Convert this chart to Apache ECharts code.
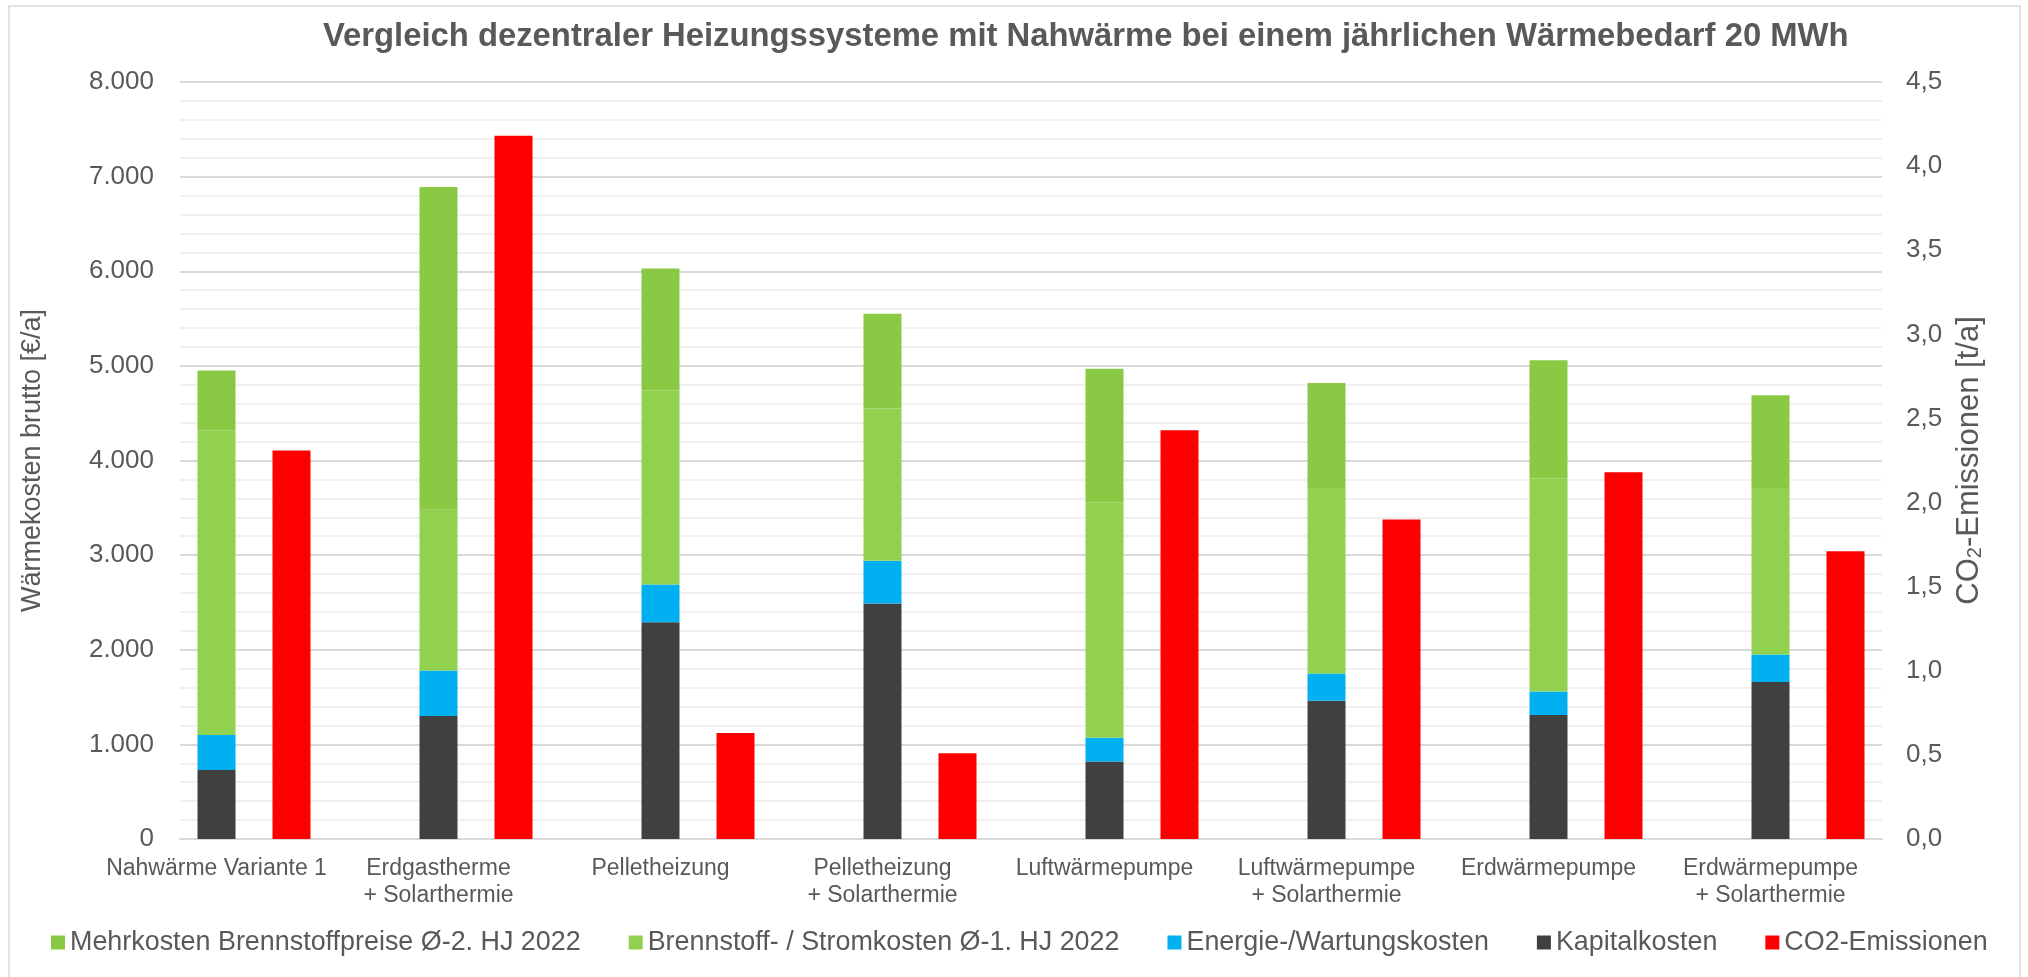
<!DOCTYPE html>
<html>
<head>
<meta charset="UTF-8">
<title>Vergleich Heizungssysteme</title>
<script src="https://cdn.jsdelivr.net/npm/echarts@6/dist/echarts.min.js"></script>
<style>
  html, body { margin: 0; padding: 0; background: #fff; }
  #chart { width: 2028px; height: 977px; }
</style>
</head>
<body>
<div id="chart"></div>
<script>
// Kategorien (x-Achse)
var categories = [
  'Nahwärme Variante 1',
  'Erdgastherme\n+ Solarthermie',
  'Pelletheizung',
  'Pelletheizung\n+ Solarthermie',
  'Luftwärmepumpe',
  'Luftwärmepumpe\n+ Solarthermie',
  'Erdwärmepumpe',
  'Erdwärmepumpe\n+ Solarthermie'
];

// Kosten in €/a (gestapelt)
var kapitalkosten = [730, 1300, 2290, 2490, 820, 1460, 1310, 1660];
var energieWartung = [370, 480, 400, 450, 250, 290, 250, 290];
var brennstoff1HJ = [3220, 1700, 2050, 1610, 2490, 1960, 2250, 1760];
var mehrkosten2HJ = [630, 3410, 1290, 1000, 1410, 1110, 1250, 980];

// CO2 in t/a (rechte Achse)
var co2 = [2.31, 4.18, 0.63, 0.51, 2.43, 1.90, 2.18, 1.71];

var font = "'Liberation Sans', Arial, sans-serif";
var textColor = '#595959';

var myChart = echarts.init(document.getElementById('chart'));

var option = {
  animation: false,
  backgroundColor: '#fff',
  textStyle: { fontFamily: font },
  graphic: [{
    type: 'rect',
    shape: { x: 9, y: 6, width: 2011, height: 990 },
    style: { fill: 'none', stroke: '#d9d9d9', lineWidth: 1.5 },
    z: -1
  }],
  title: {
    text: 'Vergleich dezentraler Heizungssysteme mit Nahwärme bei einem jährlichen Wärmebedarf 20 MWh',
    left: 323,
    top: 20,
    padding: 0,
    textStyle: { fontFamily: font, fontSize: 32.8, fontWeight: 'bold', color: textColor }
  },
  legend: {
    left: 51,
    top: 929,
    padding: 0,
    itemWidth: 14,
    itemHeight: 14,
    itemGap: 48,
    icon: 'rect',
    textStyle: { fontFamily: font, fontSize: 26.9, color: textColor },
    data: [
      'Mehrkosten Brennstoffpreise Ø-2. HJ 2022',
      'Brennstoff- / Stromkosten Ø-1. HJ 2022',
      'Energie-/Wartungskosten',
      'Kapitalkosten',
      'CO2-Emissionen'
    ]
  },
  grid: [
    // Gitterlinien und sichtbare y-Achsen
    { left: 180, right: 146, top: 82, bottom: 138 },
    // gestapelte Kostenbalken
    { left: 105.5, right: 146.5, top: 82, bottom: 138 },
    // CO2-Balken
    { left: 180.5, right: 71.5, top: 82, bottom: 138 }
  ],
  xAxis: [{
    type: 'category',
    gridIndex: 0,
    data: categories,
    axisLine: { show: true, lineStyle: { color: '#d9d9d9', width: 2 } },
    axisTick: { show: false },
    axisLabel: { show: false }
  }, {
    type: 'category',
    gridIndex: 1,
    data: categories,
    axisLine: { show: false },
    axisTick: { show: false },
    axisLabel: {
      margin: 16,
      fontFamily: font,
      fontSize: 23,
      lineHeight: 27,
      color: textColor,
      interval: 0
    }
  }, {
    type: 'category',
    gridIndex: 2,
    data: categories,
    show: false
  }],
  yAxis: [{
    type: 'value',
    gridIndex: 0,
    position: 'left',
    min: 0,
    max: 8000,
    interval: 1000,
    name: 'Wärmekosten brutto [€/a]',
    nameLocation: 'middle',
    nameGap: 134,
    nameTextStyle: { fontFamily: font, fontSize: 27, color: textColor },
    axisLine: { show: false },
    axisTick: { show: false },
    axisLabel: {
      margin: 26,
      fontFamily: font,
      fontSize: 26,
      color: textColor,
      formatter: function (v) { return v === 0 ? '0' : (v / 1000) + '.000'; }
    },
    splitLine: { show: true, lineStyle: { color: '#d9d9d9', width: 2 } },
    minorTick: { show: false, splitNumber: 5 },
    minorSplitLine: { show: true, lineStyle: { color: '#f0f0f0', width: 2 } }
  }, {
    type: 'value',
    gridIndex: 0,
    position: 'right',
    min: 0,
    max: 4.5,
    interval: 0.5,
    name: '{n|CO}{s|2}{n|-Emissionen [t/a]}',
    nameLocation: 'middle',
    nameGap: 72,
    nameRotate: 90,
    nameTextStyle: {
      fontFamily: font,
      fontSize: 31,
      color: textColor,
      rich: {
        n: { fontFamily: font, fontSize: 31, color: textColor },
        s: { fontFamily: font, fontSize: 20, color: textColor, verticalAlign: 'bottom' }
      }
    },
    axisLine: { show: false },
    axisTick: { show: false },
    axisLabel: {
      margin: 24,
      fontFamily: font,
      fontSize: 26,
      color: textColor,
      formatter: function (v) { return v.toFixed(1).replace('.', ','); }
    },
    splitLine: { show: false }
  }, {
    type: 'value',
    gridIndex: 1,
    min: 0,
    max: 8000,
    show: false,
    splitLine: { show: false }
  }, {
    type: 'value',
    gridIndex: 2,
    min: 0,
    max: 4.5,
    show: false,
    splitLine: { show: false }
  }],
  series: [{
    name: 'Kapitalkosten',
    type: 'bar',
    stack: 'kosten',
    xAxisIndex: 1,
    yAxisIndex: 2,
    barWidth: 38,
    itemStyle: { color: '#404040' },
    data: kapitalkosten
  }, {
    name: 'Energie-/Wartungskosten',
    type: 'bar',
    stack: 'kosten',
    xAxisIndex: 1,
    yAxisIndex: 2,
    barWidth: 38,
    itemStyle: { color: '#00b0f0' },
    data: energieWartung
  }, {
    name: 'Brennstoff- / Stromkosten Ø-1. HJ 2022',
    type: 'bar',
    stack: 'kosten',
    xAxisIndex: 1,
    yAxisIndex: 2,
    barWidth: 38,
    itemStyle: { color: '#92d050' },
    data: brennstoff1HJ
  }, {
    name: 'Mehrkosten Brennstoffpreise Ø-2. HJ 2022',
    type: 'bar',
    stack: 'kosten',
    xAxisIndex: 1,
    yAxisIndex: 2,
    barWidth: 38,
    itemStyle: { color: '#8ac943' },
    data: mehrkosten2HJ
  }, {
    name: 'CO2-Emissionen',
    type: 'bar',
    xAxisIndex: 2,
    yAxisIndex: 3,
    barWidth: 38,
    itemStyle: { color: '#ff0000' },
    data: co2
  }]
};

myChart.setOption(option);
</script>
</body>
</html>
